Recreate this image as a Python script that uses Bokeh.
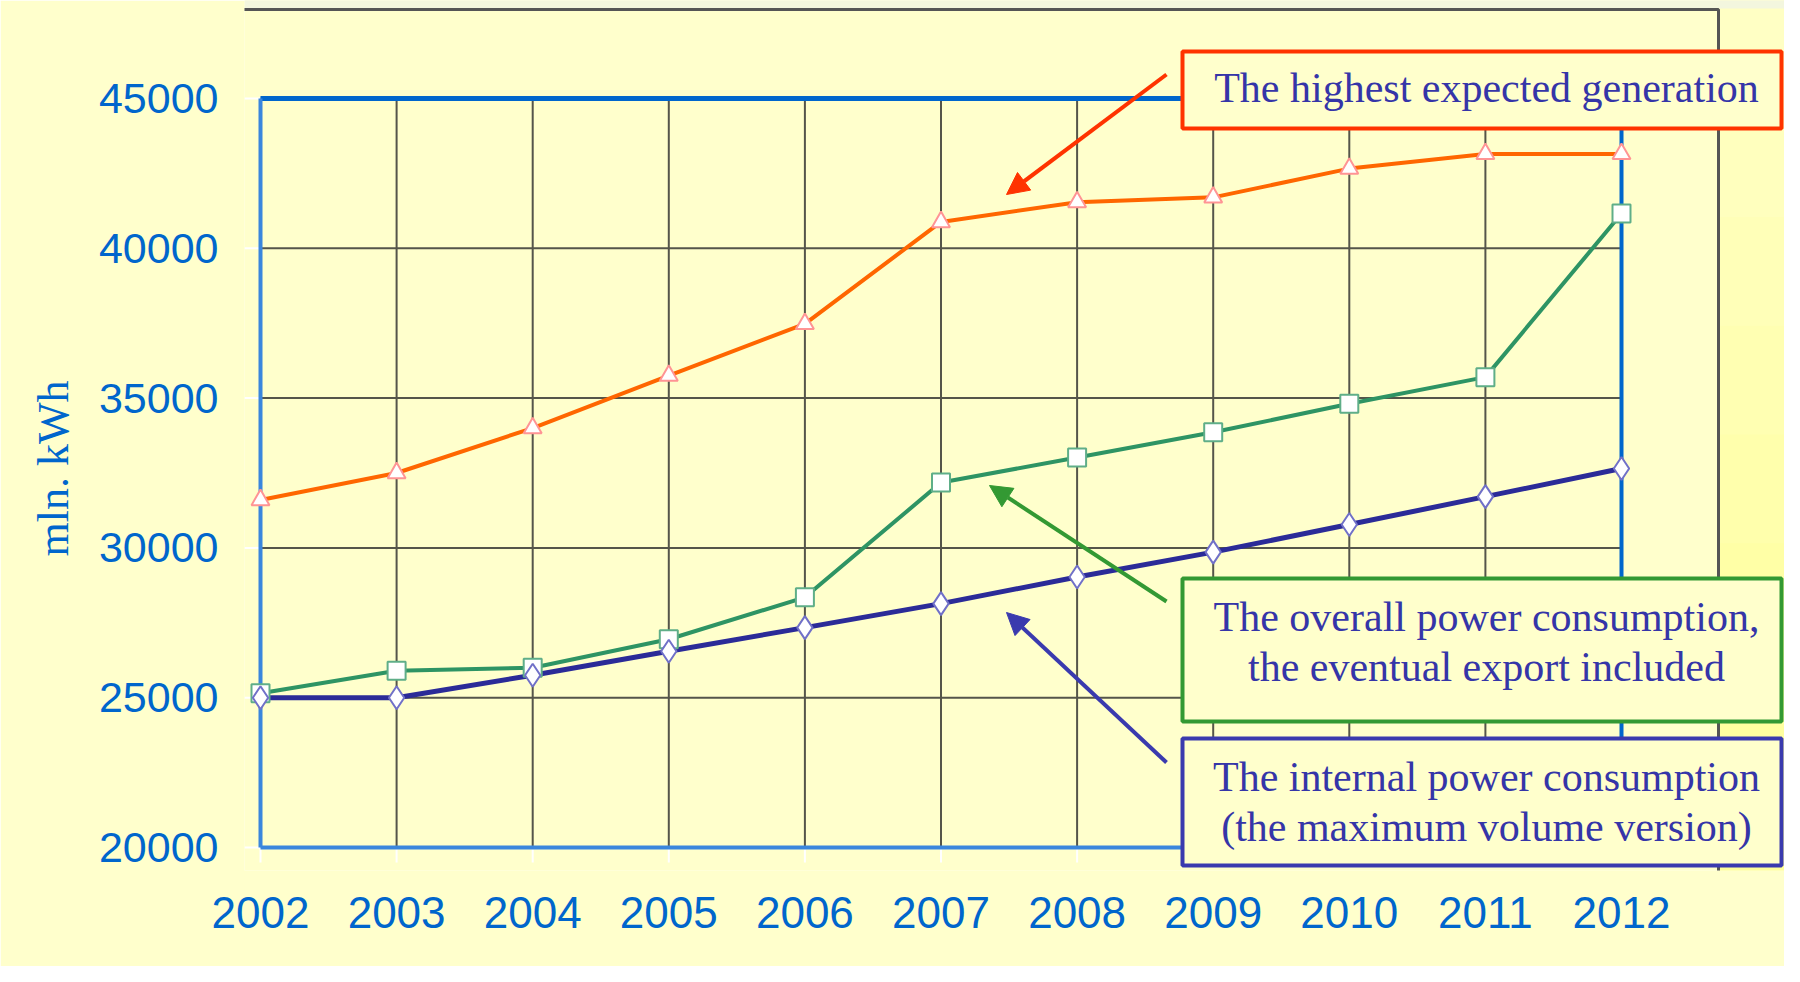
from bokeh.plotting import figure
from bokeh.models import Range1d, FixedTicker, BoxAnnotation, Label, Arrow, NormalHead, Title
from bokeh.embed import file_html
from bokeh.resources import INLINE

# ---------------- data ----------------
years = [2002, 2003, 2004, 2005, 2006, 2007, 2008, 2009, 2010, 2011, 2012]
generation = [31600, 32500, 34000, 35750, 37480, 40880, 41540, 41700, 42660, 43150, 43150]
overall = [25150, 25900, 26000, 26950, 28350, 32180, 33020, 33860, 34810, 35700, 41160]
internal = [25000, 25000, 25750, 26550, 27340, 28140, 29030, 29860, 30780, 31710, 32650]
y_ticks = [20000, 25000, 30000, 35000, 40000, 45000]
y_label = "mln. kWh"
note_generation = ["The highest expected generation"]
note_overall = ["The overall power consumption,", "the eventual export included"]
note_internal = ["The internal power consumption", "(the maximum volume version)"]

# ---------------- layout (pixel geometry of the canvas) ----------------
W, H = 1784, 966
X_FIRST, PX_PER_YEAR = 260.0, 136.1      # pixel x of first year, px per year
Y_TOP, PX_PER_STEP = 98.0, 149.8          # pixel y of top tick, px per tick step
STEP = y_ticks[1] - y_ticks[0]
ML, MR, MT = 244, 0, 0
FB = 870                                   # frame bottom (px)
MB = H - FB


def px_to_x(px):
    return years[0] + (px - X_FIRST) / PX_PER_YEAR


def py_to_y(py):
    return y_ticks[-1] - (py - Y_TOP) / PX_PER_STEP * STEP


x0, x1 = px_to_x(ML), px_to_x(W - MR)
y1, y0 = py_to_y(MT), py_to_y(FB)

BG = "#FFFFCC"
AXIS_BLUE = "#0066CC"
TEXT_BLUE = "#3535A8"

p = figure(width=W, height=H, output_backend="svg", toolbar_location=None,
           x_range=Range1d(x0, x1), y_range=Range1d(y0, y1),
           min_border_left=ML, min_border_right=MR, min_border_top=MT, min_border_bottom=MB)
p.background_fill_color = BG
p.border_fill_color = BG
p.outline_line_color = None
p.xgrid.visible = False
p.ygrid.visible = False

for ax in (p.xaxis[0], p.yaxis[0]):
    ax.axis_line_color = None
    ax.major_tick_line_color = None
    ax.minor_tick_line_color = None
    ax.major_label_text_color = AXIS_BLUE
    ax.major_label_text_font = "Liberation Sans"

p.xaxis.major_label_text_font_size = "44px"
p.yaxis.major_label_text_font_size = "43px"
p.xaxis.ticker = FixedTicker(ticks=years)
p.yaxis.ticker = FixedTicker(ticks=y_ticks)
p.xaxis.major_label_standoff = 20
p.yaxis.major_label_standoff = 20

# y-axis title (placed as a side title so it can be centred on the tick span)
p.add_layout(Title(text=y_label, align="left", offset=314, standoff=36,
                   text_font="Liberation Serif", text_font_style="normal",
                   text_font_size="44px", text_color=AXIS_BLUE), "left")

# ---------------- outer frame & right strip ----------------
strip_cols = ["#FFFFC4", "#FFFFBE", "#FFFFB8", "#FFFFB2", "#FFFFAC", "#FFFFA6", "#FFFFA0", "#FFFF9A"]
nb = len(strip_cols)
for i, c in enumerate(strip_cols):
    p.add_layout(BoxAnnotation(left=px_to_x(1719), right=px_to_x(W + 5),
                               top=py_to_y(i * FB / nb - 1), bottom=py_to_y((i + 1) * FB / nb + 1),
                               fill_color=c, fill_alpha=1, line_color=None, level="underlay"))
p.add_layout(BoxAnnotation(left=px_to_x(ML), right=px_to_x(1800), top=py_to_y(-5), bottom=py_to_y(8),
                           fill_color="#F3F6DE", fill_alpha=1, line_color=None, level="underlay"))
p.add_layout(BoxAnnotation(left=px_to_x(ML - 20), right=px_to_x(1718), top=py_to_y(9), bottom=py_to_y(H + 20),
                           fill_color=None, line_color="#555555", line_alpha=1, line_width=3,
                           level="underlay"))

# ---------------- grid ----------------
p.segment(x0=years, y0=[y_ticks[0]] * len(years), x1=years, y1=[y_ticks[-1]] * len(years),
          line_color="#55554A", line_width=2)
p.segment(x0=[years[0]] * len(y_ticks), y0=y_ticks, x1=[years[-1]] * len(y_ticks), y1=y_ticks,
          line_color="#55554A", line_width=2)

# short white tick marks outside the plot border
p.segment(x0=[px_to_x(ML)] * len(y_ticks), y0=y_ticks, x1=[years[0]] * len(y_ticks), y1=y_ticks,
          line_color="white", line_width=2)
p.segment(x0=years, y0=[y_ticks[0]] * len(years), x1=years, y1=[py_to_y(862)] * len(years),
          line_color="white", line_width=2)

# plot-area borders
p.segment(x0=[years[0]], y0=[y_ticks[-1]], x1=[years[-1]], y1=[y_ticks[-1]], line_color=AXIS_BLUE, line_width=5)
p.segment(x0=[years[-1]], y0=[y_ticks[0]], x1=[years[-1]], y1=[y_ticks[-1]], line_color=AXIS_BLUE, line_width=4)
p.segment(x0=[years[0]], y0=[y_ticks[0]], x1=[years[0]], y1=[y_ticks[-1]], line_color="#3A86DD", line_width=4)
p.segment(x0=[years[0]], y0=[y_ticks[0]], x1=[years[-1]], y1=[y_ticks[0]], line_color="#3A86DD", line_width=4)

# ---------------- series ----------------
p.line(years, generation, line_color="#FF6600", line_width=4)
p.line(years, overall, line_color="#2E9464", line_width=4)
p.line(years, internal, line_color="#2B2B98", line_width=5)
p.scatter(years, generation, marker="triangle", size=18, fill_color="white",
          line_color="#FF9494", line_width=2)
p.scatter(years, overall, marker="square", size=18, fill_color="white",
          line_color="#5FAE88", line_width=2)
p.scatter(years, internal, marker="diamond", size=23, fill_color="white",
          line_color="#7070C8", line_width=2)

# ---------------- callouts ----------------
BOX_L, BOX_R, TEXT_X = 1182, 1781, 1486
boxes = [
    (note_generation, "#FF3300", 51, 128, [87]),
    (note_overall, "#339933", 578, 721, [616, 666]),
    (note_internal, "#3A3AAE", 738, 865, [776, 826]),
]
for lines, col, top, bot, ys in boxes:
    p.add_layout(BoxAnnotation(left=px_to_x(BOX_L), right=px_to_x(BOX_R), top=py_to_y(top),
                               bottom=py_to_y(bot), fill_color=BG, fill_alpha=1,
                               line_color=col, line_alpha=1, line_width=4))
    for txt, yy in zip(lines, ys):
        p.add_layout(Label(x=px_to_x(TEXT_X), y=py_to_y(yy), text=txt, text_align="center",
                           text_baseline="middle", text_font="Liberation Serif",
                           text_font_size="42px", text_color=TEXT_BLUE))

arrows = [
    ("#FF3300", (1166, 74), (1006, 194)),
    ("#339933", (1166, 601), (989, 485)),
    ("#3A3AAE", (1166, 762), (1006, 612)),
]
for col, (sx, sy), (ex, ey) in arrows:
    p.add_layout(Arrow(x_start=px_to_x(sx), y_start=py_to_y(sy), x_end=px_to_x(ex), y_end=py_to_y(ey),
                       line_color=col, line_width=4,
                       end=NormalHead(size=22, fill_color=col, line_color=col)))

open("out.html", "w").write(file_html(p, INLINE))
